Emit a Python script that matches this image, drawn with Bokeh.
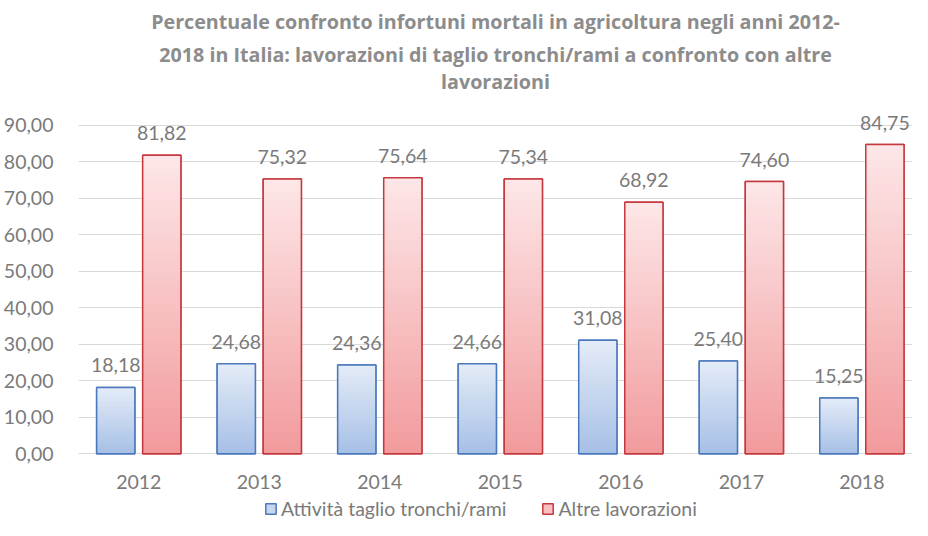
from bokeh.plotting import figure
from bokeh.models import (ColumnDataSource, Range1d, Title, Legend, LegendItem,
                          CustomJSTickFormatter, LabelSet)
from bokeh.core.properties import value
from bokeh.embed import file_html
from bokeh.resources import INLINE

years = ["2012", "2013", "2014", "2015", "2016", "2017", "2018"]
taglio = [18.18, 24.68, 24.36, 24.66, 31.08, 25.40, 15.25]
altre = [81.82, 75.32, 75.64, 75.34, 68.92, 74.60, 84.75]
series_names = ["Attività taglio tronchi/rami", "Altre lavorazioni"]
title_lines = ["Percentuale confronto infortuni mortali in agricoltura negli anni 2012-",
               "2018 in Italia: lavorazioni di taglio tronchi/rami a confronto con altre",
               "lavorazioni"]
y_ticks = list(range(0, 91, 10))

FONT = "Lato"
TXT = "#7a7a7a"
FS = "19.5px"

# category centres (the reference chart is cropped close to its right edge)
xpos = [i + 0.5 for i in range(len(years))]

p = figure(width=912, height=520, x_range=Range1d(0, 6.92), y_range=Range1d(-18.3, 98.75),
           output_backend="svg", toolbar_location=None, x_axis_location=None,
           min_border_left=71, min_border_right=0, min_border_top=0, min_border_bottom=0)
p.outline_line_color = None
p.background_fill_color = "white"
p.border_fill_color = "white"

lines_rev = list(reversed(title_lines))
for k, line in enumerate(lines_rev):
    p.add_layout(Title(text=line, align="center", text_font="Open Sans", text_font_size="19.7px",
                       text_font_style="bold", text_color="#8c8c8c",
                       standoff=(10 if k == len(lines_rev) - 1 else -2.5)), "above")


def hex2rgb(h):
    h = h.lstrip("#")
    return tuple(int(h[i:i + 2], 16) for i in (0, 2, 4))


def lerp(c1, c2, t):
    a, b = hex2rgb(c1), hex2rgb(c2)
    return "#%02x%02x%02x" % tuple(int(round(a[i] + (b[i] - a[i]) * t)) for i in range(3))


N = 40
W = 0.317
OFF = 0.191
styles = [
    (taglio, -OFF, "#a7c0e6", "#e3ebf7", "#4a78bd"),
    (altre, OFF, "#f29b9d", "#fde6e7", "#c4393e"),
]
legend_items = []
for (vals, off, bottom_c, top_c, border), name in zip(styles, series_names):
    bx = [c + off for c in xpos]
    osrc = ColumnDataSource(dict(x=bx, v=vals, lab=[f"{v:.2f}".replace(".", ",") for v in vals]))
    # base bar (used for the legend swatch), fully covered by the gradient slices
    base = p.vbar(x="x", top="v", bottom=0, width=W,
                  fill_color=lerp(bottom_c, top_c, 0.5), line_color=border, line_width=1.5,
                  source=osrc)
    xs, bs, ts, cs = [], [], [], []
    for i in range(N):
        for x, v in zip(bx, vals):
            xs.append(x)
            bs.append(v * i / N)
            ts.append(v)
            cs.append(lerp(bottom_c, top_c, i / (N - 1)))
    src = ColumnDataSource(dict(x=xs, b=bs, t=ts, c=cs))
    p.vbar(x="x", bottom="b", top="t", width=W, fill_color="c", line_color=None, source=src)
    p.vbar(x="x", top="v", bottom=0, width=W,
           fill_color=None, line_color=border, line_width=1.5, source=osrc)
    p.add_layout(LabelSet(x="x", y="v", text="lab", source=osrc,
                          text_align="center", text_baseline="middle", y_offset=22,
                          text_font=value(FONT), text_font_size=value(FS),
                          text_color=TXT))
    legend_items.append(LegendItem(label=name, renderers=[base]))

# category labels under the zero line
ysrc = ColumnDataSource(dict(x=xpos, y=[0] * len(years), lab=years))
p.add_layout(LabelSet(x="x", y="y", text="lab", source=ysrc, text_align="center",
                      text_baseline="middle", y_offset=-28, text_font=value(FONT),
                      text_font_size=value(FS), text_color=TXT))

p.xgrid.grid_line_color = None
p.ygrid.grid_line_color = "#d9d9d9"
p.ygrid.grid_line_width = 1.2
p.yaxis.ticker = y_ticks
p.yaxis.formatter = CustomJSTickFormatter(code="return tick.toFixed(2).replace('.', ',');")
p.yaxis.axis_line_color = None
p.yaxis.major_tick_line_color = None
p.yaxis.minor_tick_line_color = None
p.yaxis.major_label_text_font = FONT
p.yaxis.major_label_text_font_size = FS
p.yaxis.major_label_text_color = TXT
p.yaxis.major_label_standoff = 19

legend = Legend(items=legend_items, orientation="horizontal", location=(186, 0),
                label_text_font=FONT, label_text_font_size="19.5px", label_text_color=TXT,
                glyph_width=13, glyph_height=13, label_height=13, spacing=35, label_standoff=4,
                border_line_color=None, background_fill_alpha=0, padding=0, margin=0)
p.add_layout(legend)

open("out.html", "w").write(file_html(p, INLINE))
